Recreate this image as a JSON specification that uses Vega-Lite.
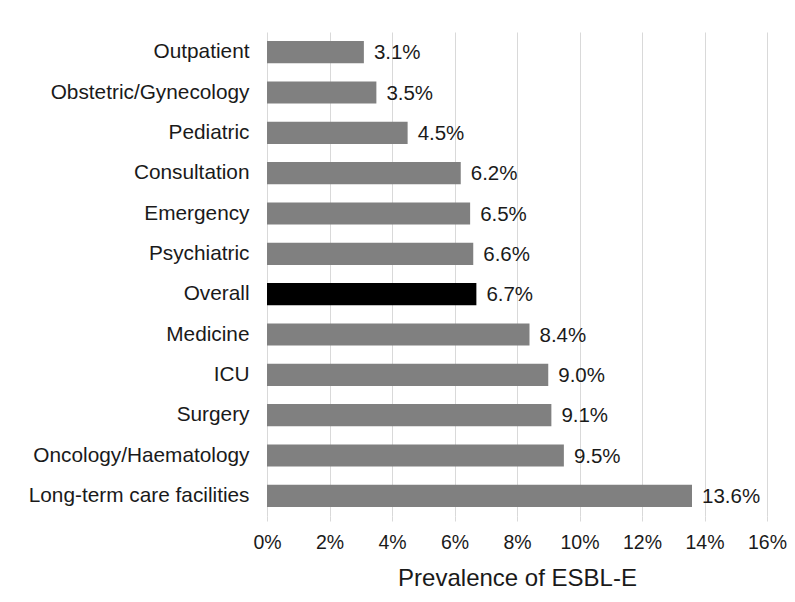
{
  "$schema": "https://vega.github.io/schema/vega-lite/v6.json",
  "width": 500,
  "height": 484,
  "autosize": {"type": "none"},
  "padding": {"left": 267, "top": 32, "right": 28, "bottom": 86},
  "background": "white",
  "config": {
    "view": {"stroke": null},
    "font": "Liberation Sans",
    "text": {"font": "Liberation Sans"}
  },
  "data": {
    "values": [
      {"unit": "Outpatient", "value": 3.1, "label": "3.1%", "group": "unit"},
      {"unit": "Obstetric/Gynecology", "value": 3.5, "label": "3.5%", "group": "unit"},
      {"unit": "Pediatric", "value": 4.5, "label": "4.5%", "group": "unit"},
      {"unit": "Consultation", "value": 6.2, "label": "6.2%", "group": "unit"},
      {"unit": "Emergency", "value": 6.5, "label": "6.5%", "group": "unit"},
      {"unit": "Psychiatric", "value": 6.6, "label": "6.6%", "group": "unit"},
      {"unit": "Overall", "value": 6.7, "label": "6.7%", "group": "overall"},
      {"unit": "Medicine", "value": 8.4, "label": "8.4%", "group": "unit"},
      {"unit": "ICU", "value": 9.0, "label": "9.0%", "group": "unit"},
      {"unit": "Surgery", "value": 9.1, "label": "9.1%", "group": "unit"},
      {"unit": "Oncology/Haematology", "value": 9.5, "label": "9.5%", "group": "unit"},
      {"unit": "Long-term care facilities", "value": 13.6, "label": "13.6%", "group": "unit"}
    ]
  },
  "encoding": {
    "y": {
      "field": "unit",
      "type": "nominal",
      "sort": null,
      "scale": {"paddingInner": 0.45, "paddingOuter": 0.225},
      "axis": {
        "title": null,
        "domain": false,
        "ticks": false,
        "labelFontSize": 20.8,
        "labelColor": "#1a1a1a",
        "labelPadding": 18,
        "labelFont": "Liberation Sans",
        "labelLimit": 400
      }
    },
    "x": {
      "field": "value",
      "type": "quantitative",
      "scale": {"domain": [0, 16], "nice": false},
      "axis": {
        "title": "Prevalence of ESBL-E",
        "titleFontSize": 24,
        "titleFontWeight": "normal",
        "titleColor": "#1a1a1a",
        "titleFont": "Liberation Sans",
        "titlePadding": 15,
        "values": [0, 2, 4, 6, 8, 10, 12, 14, 16],
        "labelExpr": "datum.value + '%'",
        "labelFontSize": 19.5,
        "labelColor": "#1a1a1a",
        "labelFont": "Liberation Sans",
        "labelPadding": 12,
        "labelFlush": false,
        "labelOverlap": false,
        "domain": false,
        "ticks": true,
        "tickSize": 5,
        "tickColor": "#d9d9d9",
        "grid": true,
        "gridColor": "#d9d9d9",
        "gridWidth": 1
      }
    }
  },
  "layer": [
    {
      "mark": {"type": "bar"},
      "encoding": {
        "color": {
          "field": "group",
          "type": "nominal",
          "scale": {"domain": ["unit", "overall"], "range": ["#808080", "#000000"]},
          "legend": null
        }
      }
    },
    {
      "mark": {"type": "text", "align": "left", "baseline": "middle", "dx": 10, "dy": 1, "fontSize": 20.5, "color": "#1a1a1a", "font": "Liberation Sans"},
      "encoding": {
        "text": {"field": "label"}
      }
    }
  ]
}
